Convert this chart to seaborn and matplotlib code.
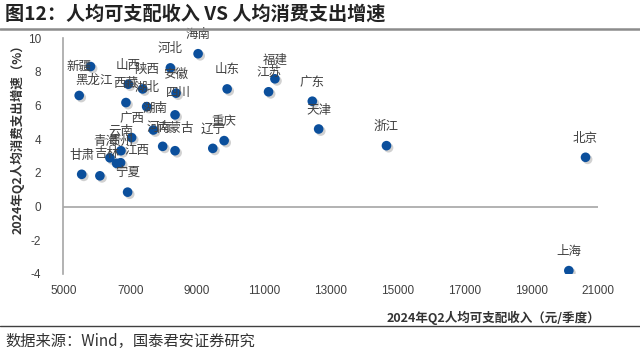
import numpy as np
import pandas as pd
import matplotlib
matplotlib.use("Agg")
import matplotlib.pyplot as plt
import matplotlib.patheffects as pe
from matplotlib.lines import Line2D
import seaborn as sns

# === Data ===
provinces = ["海南", "河北", "新疆", "黑龙江", "山西", "陕西", "安徽", "西藏",
             "湖北", "四川", "广西", "湖南", "河南", "内蒙古", "云南", "青海",
             "贵州", "江西", "甘肃", "吉林", "宁夏", "辽宁", "重庆", "山东",
             "福建", "江苏", "广东", "天津", "浙江", "北京", "上海"]
income = [9030, 8200, 5810, 5470, 6940, 7370, 8370, 6870,
          7490, 8340, 7040, 7690, 7970, 8340, 6720, 6390,
          6590, 6710, 5545, 6090, 6920, 9470, 9810, 9900,
          11330, 11140, 12450, 12640, 14670, 20630, 20130]
growth = [9.08, 8.24, 8.32, 6.60, 7.27, 6.99, 6.74, 6.18,
          5.94, 5.45, 4.10, 4.55, 3.58, 3.32, 3.32, 2.90,
          2.57, 2.61, 1.92, 1.83, 0.86, 3.46, 3.92, 6.99,
          7.59, 6.82, 6.26, 4.61, 3.62, 2.93, -3.80]

x_ticks = [5000, 7000, 9000, 11000, 13000, 15000, 17000, 19000, 21000]
y_ticks = [-4, -2, 0, 2, 4, 6, 8, 10]

# label placement (pixels from the dot); default is straight above
label_shift = {"新疆": (-12, 0), "黑龙江": (15, 15), "吉林": (7, 22),
               "青海": (-4, 16), "贵州": (4, 22), "江西": (16, 12),
               "内蒙古": (0, 22), "河南": (-4, 19), "四川": (3, 22),
               "湖南": (2, 22), "陕西": (4, 19)}

df = pd.DataFrame({"省份": provinces, "收入": income, "增速": growth})

sns.set_theme(style="white")
plt.rcParams["font.family"] = ["Noto Sans CJK SC", "DejaVu Sans"]

fig = plt.figure(figsize=(6.4, 3.54), dpi=100)
ax = fig.add_axes([0.0992, 0.226, 0.835, 0.666])

sns.scatterplot(data=df, x="收入", y="增速", ax=ax, s=48, color="#0b4f9c",
                edgecolor="none", zorder=3, legend=False)
ax.collections[0].set_path_effects([
    pe.SimplePatchShadow(offset=(1.5, -1.5), shadow_rgbFace="#9a9a9a", alpha=0.45),
    pe.Normal()])

for name, xv, yv in zip(provinces, income, growth):
    dx, dy = label_shift.get(name, (0, 19))
    ax.annotate(name, (xv, yv), xytext=(dx, dy), textcoords="offset pixels",
                ha="center", va="center", fontsize=9, color="#404040", zorder=4)

ax.set_xlim(5000, 21000)
ax.set_ylim(-4, 10)
ax.set_xticks(x_ticks)
ax.set_yticks(y_ticks)
ax.set_xticklabels([str(v) for v in x_ticks], family=["Liberation Sans"], fontsize=8.5)
ax.set_yticklabels([str(v) for v in y_ticks], family=["Liberation Sans"], fontsize=8.5)
ax.tick_params(axis="both", length=0, colors="#404040")
ax.tick_params(axis="x", pad=8)
ax.tick_params(axis="y", pad=16)

for side in ["top", "right", "bottom"]:
    ax.spines[side].set_visible(False)
ax.spines["left"].set_color("#a6a6a6")
ax.spines["left"].set_linewidth(1.2)
ax.axhline(0, color="#a6a6a6", lw=1.2, zorder=1)

ax.set_ylabel("2024年Q2人均消费支出增速（%）", fontsize=9, fontweight="bold", color="#333333")
ax.yaxis.set_label_coords(-0.072, 0.585)
ax.set_xlabel("2024年Q2人均可支配收入（元/季度）", fontsize=9, fontweight="bold",
              color="#333333", ha="right")
ax.xaxis.set_label_coords(1.004, -0.157)

fig.text(0.008, 1 - 14 / 354, "图12：人均可支配收入 VS 人均消费支出增速",
         fontsize=13.8, fontweight="bold", va="center", color="#222222")
fig.add_artist(Line2D([0, 1], [1 - 29 / 354] * 2, color="#8c8c8c", lw=1.8,
                      transform=fig.transFigure))
fig.add_artist(Line2D([0, 1], [1 - 326 / 354] * 2, color="#404040", lw=1.0,
                      transform=fig.transFigure))
fig.text(0.008, 1 - 341 / 354, "数据来源：Wind，国泰君安证券研究",
         fontsize=11, va="center", color="#333333")

fig.savefig("out.png", dpi=100)
